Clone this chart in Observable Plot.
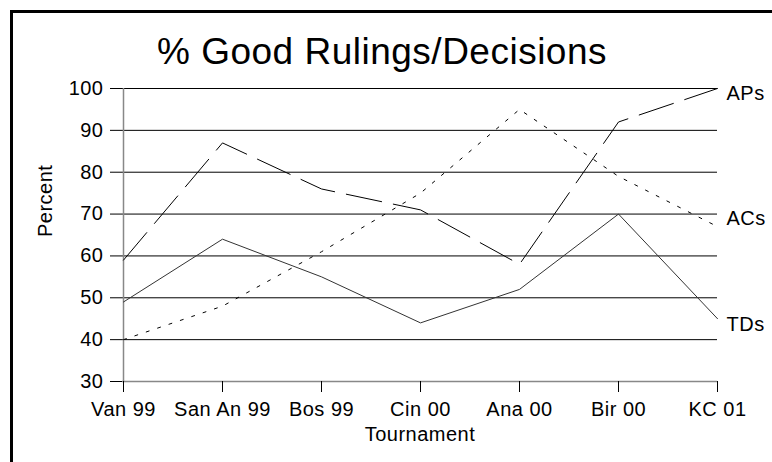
<!DOCTYPE html>
<html>
<head>
<meta charset="utf-8">
<script src="https://cdn.jsdelivr.net/npm/d3@7"></script>
<script src="https://cdn.jsdelivr.net/npm/@observablehq/plot@0.6"></script>
<style>
  html, body { margin: 0; padding: 0; background: #fff; overflow: hidden; }
  #wrap { position: relative; width: 772px; height: 462px; }
  #border { position: absolute; left: 10px; top: 10px; width: 800px; height: 500px; border: 3px solid #000; pointer-events: none; }
  svg text { letter-spacing: 0.5px; }
</style>
</head>
<body>
<div id="wrap"><div id="border"></div></div>
<script>
const tournaments = ["Van 99", "San An 99", "Bos 99", "Cin 00", "Ana 00", "Bir 00", "KC 01"];
const tds = [49, 64, 55, 44, 52, 70, 45];
const aps = [59, 87, 76, 71, 58, 92, 100];
const acs = [40, 48, 61, 75, 95, 79, 67];
const yTicks = [30, 40, 50, 60, 70, 80, 90, 100];
const gridTicks = [40, 50, 60, 70, 80, 90, 100];
const seriesNames = ["TDs", "APs", "ACs"];
const titleText = "% Good Rulings/Decisions";
const xLabel = "Tournament";
const yLabel = "Percent";

const rows = (vals, name) => tournaments.map((t, i) => ({tournament: t, value: vals[i], series: name}));
const tdRows = rows(tds, seriesNames[0]);
const apRows = rows(aps, seriesNames[1]);
const acRows = rows(acs, seriesNames[2]);
const last = r => [r[r.length - 1]];

const font = "'Liberation Sans', Arial, Helvetica, sans-serif";

const chart = Plot.plot({
  width: 772,
  height: 462,
  marginLeft: 122,
  marginRight: 55,
  marginTop: 88,
  marginBottom: 81,
  style: {fontFamily: font, fontSize: "20px", color: "#000", background: "transparent"},
  x: {type: "point", domain: tournaments, padding: 0},
  y: {domain: [30, 100]},
  marks: [
    Plot.gridY(gridTicks, {stroke: "#000", strokeOpacity: 1, strokeWidth: 1}),
    Plot.ruleY([30], {stroke: "#888", strokeWidth: 1.5}),
    Plot.ruleX([tournaments[0]], {y1: 30, y2: 100, stroke: "#888", strokeWidth: 1.5}),
    Plot.axisY({ticks: yTicks, tickSize: 12, tickPadding: 7, fontSize: 20, label: null}),
    Plot.axisX({tickSize: 11, tickPadding: 9, fontSize: 20, label: null}),
    Plot.line(acRows, {x: "tournament", y: "value", stroke: "#000", strokeWidth: 1, strokeDasharray: "3,9"}),
    Plot.line(apRows, {x: "tournament", y: "value", stroke: "#000", strokeWidth: 1, strokeDasharray: "36,12"}),
    Plot.line(tdRows, {x: "tournament", y: "value", stroke: "#333", strokeWidth: 1}),
    Plot.text(last(apRows), {x: "tournament", y: "value", text: "series", textAnchor: "start", dx: 9, dy: 5, fontSize: 20}),
    Plot.text(last(acRows), {x: "tournament", y: "value", text: "series", textAnchor: "start", dx: 9, dy: -8, fontSize: 20}),
    Plot.text(last(tdRows), {x: "tournament", y: "value", text: "series", textAnchor: "start", dx: 9, dy: 6, fontSize: 20}),
    Plot.text([yLabel], {text: d => d, frameAnchor: "left", dx: -77, dy: 2, rotate: -90, fontSize: 20}),
    Plot.text([xLabel], {text: d => d, frameAnchor: "bottom", dy: 59, fontSize: 20}),
    Plot.text([titleText], {text: d => d, frameAnchor: "top", dx: -38, dy: -25, lineAnchor: "bottom", fontSize: 37})
  ]
});
document.getElementById("wrap").insertBefore(chart, document.getElementById("border"));
</script>
</body>
</html>
